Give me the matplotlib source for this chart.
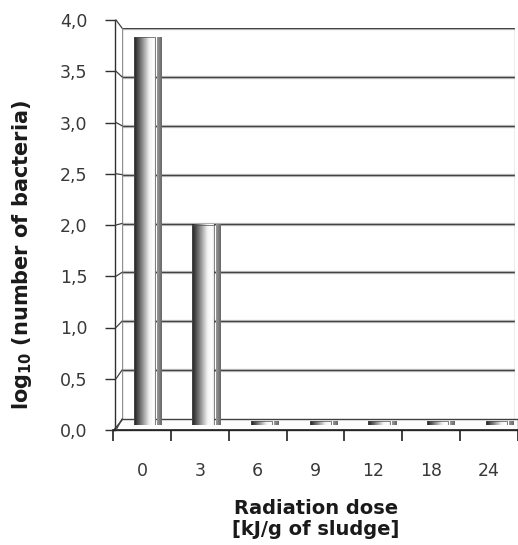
import numpy as np
import matplotlib
matplotlib.use("Agg")
import matplotlib.pyplot as plt
from matplotlib.lines import Line2D
from matplotlib.patches import Polygon, Rectangle

plt.rcParams['font.family'] = ['DejaVu Sans']
plt.rcParams['mathtext.fontset'] = 'custom'
plt.rcParams['mathtext.bf'] = 'DejaVu Sans:bold'
plt.rcParams['mathtext.rm'] = 'DejaVu Sans'

# ---- data ----
categories = ["0", "3", "6", "9", "12", "18", "24"]
values = [3.87, 2.0, 0.035, 0.035, 0.035, 0.035, 0.035]
yticks = [0.0, 0.5, 1.0, 1.5, 2.0, 2.5, 3.0, 3.5, 4.0]
ytick_labels = ["0,0", "0,5", "1,0", "1,5", "2,0", "2,5", "3,0", "3,5", "4,0"]
xlabel = "Radiation dose\n[kJ/g of sludge]"
ylabel = r"log$_\mathbf{10}$ (number of bacteria)"

W, H = 518, 545
fig = plt.figure(figsize=(W / 100, H / 100), dpi=100)

def frac(x0, y_top, x1, y_bot):
    return [x0 / W, 1 - y_bot / H, (x1 - x0) / W, (y_bot - y_top) / H]

step = 58.67
front_left = 113
front_right = 518
nx_max = -0.5 + (front_right - front_left) / step

# back wall (perspective plane)
bx0, bx1, by_top, by_bot = 122, 515, 28, 419
ax_back = fig.add_axes(frac(bx0, by_top, bx1, by_bot))
ax_back.set_ylim(0, 4)
ax_back.set_xlim(0, 1)
ax_back.patch.set_alpha(0)
for v in yticks[1:]:
    ax_back.axhline(v, color="#cccccc", lw=2.4, zorder=0)
    ax_back.axhline(v, color="#444444", lw=1.0, zorder=1)
ax_back.axvline(0, color="#909090", lw=1.0)
ax_back.axvline(1, color="#a0a0a0", lw=1.0)
for s in ax_back.spines.values():
    s.set_visible(False)
ax_back.set_xticks([]); ax_back.set_yticks([])

# floor
floor = Polygon([[front_left / W, 1 - 430 / H], [1.0, 1 - 430 / H],
                 [1.0, 1 - by_bot / H], [bx0 / W, 1 - by_bot / H]],
                closed=True, transform=fig.transFigure, facecolor="#fcfcfc",
                edgecolor="#404040", lw=1.0, zorder=2, clip_on=False)
ax_back.add_artist(floor)

# front axes (ticks + labels)
fy_top, fy_bot = 20, 430
ax = fig.add_axes(frac(front_left, fy_top, front_right, fy_bot))
ax.set_ylim(0, 4)
ax.set_xlim(-0.5, nx_max)
ax.patch.set_alpha(0)
for s in ["top", "right"]:
    ax.spines[s].set_visible(False)
ax.spines["left"].set_position(("data", -0.465))
ax.spines["left"].set_color("#303030")
ax.spines["bottom"].set_color("#202020")
ax.spines["left"].set_linewidth(1.0)
ax.spines["bottom"].set_linewidth(1.2)
ax.set_yticks(yticks)
ax.set_yticklabels(ytick_labels)
ax.tick_params(axis="y", direction="out", length=7, width=1.0, color="#303030",
               labelsize=12.5, labelcolor="#383838", pad=13)
ax.set_xticks(np.arange(len(categories) + 1) - 0.5, minor=False)
ax.set_xticklabels([])
ax.set_xticks(np.arange(len(categories)), minor=True)
ax.set_xticklabels(categories, minor=True)
ax.tick_params(axis="x", which="major", direction="out", length=8, width=1.2, color="#202020")
ax.tick_params(axis="x", which="minor", length=0, labelsize=12.5, labelcolor="#383838", pad=23)

# diagonal connectors from front ticks to back wall
for v in yticks:
    fy = fy_bot - (fy_bot - fy_top) * v / 4
    byy = by_bot - (by_bot - by_top) * v / 4
    fig.add_artist(Line2D([116 / W, bx0 / W], [1 - fy / H, 1 - byy / H],
                          transform=fig.transFigure, color="#404040", lw=0.9))

# bars in mid plane
mx0, mx1, my_top, my_bot = 115, 520, 24, 425
ax_bar = fig.add_axes(frac(mx0, my_top, mx1, my_bot))
ax_bar.set_ylim(0, 4)
ax_bar.set_xlim(-0.5, -0.5 + (mx1 - mx0) / step)
ax_bar.axis("off")
ax_bar.patch.set_alpha(0)

grad = np.linspace(0, 1, 256)
front_shade = np.interp(grad, [0, 0.08, 0.3, 0.7, 0.9, 1.0], [0.15, 0.2, 0.45, 0.95, 1.0, 0.9])
side_shade = np.interp(grad, [0, 0.5, 1.0], [0.6, 0.5, 0.4])
bar_w = 0.36
side_w = 0.08
gap = 0.035
for i, v in enumerate(values):
    xc = i + 0.0
    x0 = xc - bar_w / 2
    x1 = xc + bar_w / 2
    ax_bar.imshow(front_shade[None, :], cmap="gray", vmin=0, vmax=1, aspect="auto",
                  extent=[x0, x1, 0, v], zorder=3, interpolation="bilinear")
    ax_bar.imshow(side_shade[None, :], cmap="gray", vmin=0, vmax=1, aspect="auto",
                  extent=[x1 + gap, x1 + gap + side_w, 0, v], zorder=3, interpolation="bilinear")
    ax_bar.add_patch(Rectangle((x0, 0), bar_w, v, fill=False, ec="#505050", lw=0.5, zorder=4))
ax_bar.set_ylim(0, 4)
ax_bar.set_xlim(-0.5, -0.5 + (mx1 - mx0) / step)

# axis labels
fig.text(22 / W, 1 - 255 / H, ylabel, rotation=90, ha="center", va="center",
         fontsize=15, fontweight="bold", color="#1a1a1a")
fig.text(316 / W, 1 - 519 / H, xlabel, ha="center", va="center",
         fontsize=14, fontweight="bold", color="#1a1a1a", linespacing=1.1)

fig.savefig("out.png", dpi=100)
